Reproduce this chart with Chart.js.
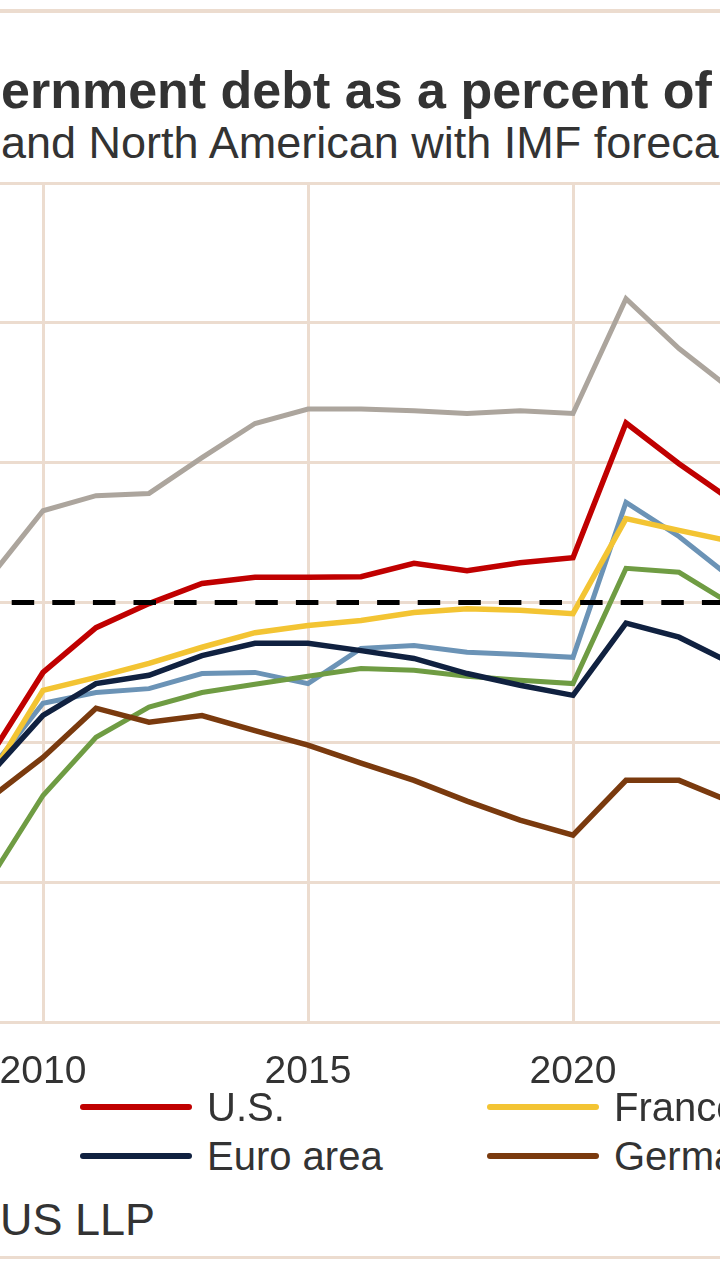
<!DOCTYPE html>
<html lang="en">
<head>
<meta charset="UTF-8">
<title>Government debt as a percent of GDP</title>
<script src="https://cdn.jsdelivr.net/npm/chart.js@4"></script>
<style>
  html, body { margin: 0; width: 720px; height: 1280px; overflow: hidden; background: #fff; }
  body { position: relative; font-family: "Liberation Sans", Arial, sans-serif; color: #333; }
  .rule { position: absolute; left: 0; width: 720px; background: #ecdccf; }
  .title { position: absolute; left: 1px; top: 64px; font-size: 52px; line-height: 1; font-weight: bold; white-space: nowrap; }
  .subtitle { position: absolute; left: 1px; top: 120px; font-size: 45px; line-height: 1; white-space: nowrap; }
  .chart-box { position: absolute; left: -10px; top: 173px; width: 742px; height: 929px; }
  .legend-item { position: absolute; display: flex; align-items: center; font-size: 40px; line-height: 1; white-space: nowrap; }
  .legend-item .swatch { width: 112px; height: 6px; margin-right: 15px; border-radius: 3px; }
  .source { position: absolute; left: 0; top: 1197px; font-size: 45px; line-height: 1; white-space: nowrap; }
</style>
</head>
<body>
  <div class="rule" style="top:9px; height:4px;"></div>
  <div class="title">ernment debt as a percent of</div>
  <div class="subtitle">and North American with IMF foreca</div>

  <div class="chart-box"><canvas id="debtChart"></canvas></div>

  <div id="legend"></div>
  <div class="source">US LLP</div>
  <div class="rule" style="top:1256px; height:3px;"></div>

<script>
// years on the axis (one point every 53px, only every 5th labelled)
const years = ['2009', '2010', '2011', '2012', '2013', '2014', '2015', '2016',
               '2017', '2018', '2019', '2020', '2021', '2022', '2023'];

// % of GDP
const italy    = [104.5, 116.4, 119.1, 119.5, 125.9, 132.0, 134.6, 134.6, 134.3, 133.8, 134.3, 133.8, 154.3, 145.4, 138.0];
const usa      = [72.5, 87.5, 95.5, 99.8, 103.4, 104.5, 104.5, 104.6, 107.0, 105.7, 107.1, 108.0, 132.1, 124.8, 118.2];
const france   = [68.8, 84.3, 86.6, 89.1, 92.0, 94.6, 95.9, 96.8, 98.2, 98.9, 98.6, 98.0, 115.0, 112.9, 110.9];
const canada   = [70.0, 82.0, 83.9, 84.6, 87.3, 87.5, 85.5, 91.8, 92.3, 91.1, 90.7, 90.2, 117.9, 111.8, 104.3];
const uk       = [50.5, 65.5, 75.9, 81.3, 83.9, 85.4, 86.8, 88.2, 87.9, 86.8, 86.1, 85.5, 106.1, 105.4, 99.6];
const euroArea = [69.3, 79.8, 85.5, 87.0, 90.5, 92.7, 92.7, 91.4, 90.0, 87.3, 85.2, 83.4, 96.3, 93.8, 89.1];
const germany  = [65.0, 72.3, 81.1, 78.6, 79.8, 77.1, 74.5, 71.3, 68.2, 64.5, 61.1, 58.4, 68.2, 68.2, 64.3];
const par      = [100, 100, 100, 100, 100, 100, 100, 100, 100, 100, 100, 100, 100, 100, 100];

const gridColor = '#ecdccf';

function series(label, data, color, width) {
  return { label, data, borderColor: color, backgroundColor: color, borderWidth: width,
           pointRadius: 0, tension: 0, fill: false };
}

// first dataset is painted on top
const datasets = [
  Object.assign(series('100%', par, '#000000', 5), { borderDash: [22.5, 18.1], borderDashOffset: 18.9 }),
  series('Germany', germany, '#7a3a0e', 5.5),
  series('Euro area', euroArea, '#102140', 5.5),
  series('U.K.', uk, '#6f9c43', 5),
  series('France', france, '#f3c433', 5.5),
  series('Canada', canada, '#6b93b6', 5),
  series('U.S.', usa, '#c00000', 5.5),
  series('Italy', italy, '#aca59d', 5)
];

new Chart(document.getElementById('debtChart'), {
  type: 'line',
  data: { labels: years, datasets },
  options: {
    responsive: true,
    maintainAspectRatio: false,
    animation: false,
    layout: { autoPadding: false, padding: { top: 10, left: 0, right: 0, bottom: 0 } },
    plugins: { legend: { display: false }, tooltip: { enabled: false } },
    scales: {
      x: {
        offset: false,
        border: { display: false },
        grid: {
          drawTicks: false,
          lineWidth: 3,
          color: ctx => (ctx.index % 5 === 1 ? gridColor : 'rgba(0,0,0,0)')
        },
        ticks: {
          autoSkip: false,
          maxRotation: 0,
          padding: 27,
          color: '#333',
          font: { family: '"Liberation Sans", Arial, sans-serif', size: 39 },
          callback: (v, i) => (i % 5 === 1 ? years[i] : '')
        },
        afterFit: s => { s.height = 80; s.paddingLeft = 0; s.paddingRight = 0; }
      },
      y: {
        min: 25,
        max: 175,
        border: { display: false },
        grid: { drawTicks: false, lineWidth: 3, color: gridColor },
        ticks: { display: false, stepSize: 25 },
        afterFit: s => { s.width = 0; }
      }
    }
  }
});

// legend (two visible columns, the rest is cut off at the edge)
const legendRows = [
  { name: 'U.S.', color: '#c00000', x: 80, y: 1107 },
  { name: 'France', color: '#f3c433', x: 487, y: 1107 },
  { name: 'Euro area', color: '#102140', x: 80, y: 1156 },
  { name: 'Germany', color: '#7a3a0e', x: 487, y: 1156 }
];
const legend = document.getElementById('legend');
legendRows.forEach(r => {
  const item = document.createElement('div');
  item.className = 'legend-item';
  item.style.left = r.x + 'px';
  item.style.top = (r.y - 20) + 'px';
  item.innerHTML = `<span class="swatch" style="background:${r.color}"></span><span>${r.name}</span>`;
  legend.appendChild(item);
});
</script>
</body>
</html>
